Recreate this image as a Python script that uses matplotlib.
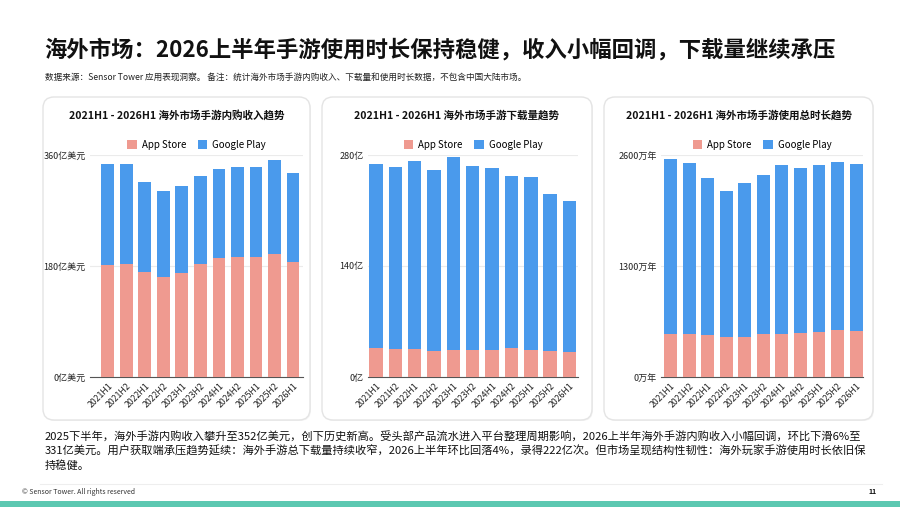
import matplotlib
matplotlib.use("Agg")
import matplotlib.pyplot as plt
from matplotlib.patches import FancyBboxPatch, Rectangle
import numpy as np

plt.rcParams['font.family'] = ['Noto Sans CJK SC', 'DejaVu Sans']

# ---- data ----
periods = ["2021H1", "2021H2", "2022H1", "2022H2", "2023H1", "2023H2",
           "2024H1", "2024H2", "2025H1", "2025H2", "2026H1"]

# in-app revenue, 亿美元
rev_total = [345, 345, 316, 301, 309, 326, 338, 341, 340, 352, 331]
rev_appstore = [181, 183, 170, 162, 169, 183, 193, 195, 194, 199, 186]

# downloads, 亿次
dl_total = [269, 265, 272, 261, 278, 266, 264, 254, 252, 231, 222]
dl_appstore = [36, 35, 35.5, 33, 33.5, 33.5, 33.5, 36, 34, 33, 32]

# total time spent, 万年
time_total = [2553, 2510, 2333, 2180, 2270, 2365, 2486, 2447, 2486, 2518, 2494]
time_appstore = [503, 507, 495, 471, 471, 499, 507, 511, 522, 546, 534]

C_AS = "#EF9A90"
C_GP = "#4A9AEC"

W, H = 900, 507
fig = plt.figure(figsize=(9, 5.07), dpi=100)

# background canvas in pixel coordinates
bg = fig.add_axes([0, 0, 1, 1], zorder=0)
bg.set_xlim(0, W)
bg.set_ylim(H, 0)
bg.axis("off")

cards = [(43, 310), (322, 592), (604, 873)]
for l, r in cards:
    # faint shadow then the card
    bg.add_patch(FancyBboxPatch((l + 1, 98), r - l, 323, boxstyle="round,pad=0,rounding_size=11",
                                fc="#f3f3f3", ec="none"))
    bg.add_patch(FancyBboxPatch((l, 97), r - l, 323, boxstyle="round,pad=0,rounding_size=11",
                                fc="white", ec="#e4e4e4", lw=1.0))

bg.text(44, 50, "海外市场：2026上半年手游使用时长保持稳健，收入小幅回调，下载量继续承压",
        fontsize=16.1, fontweight="bold", va="center", ha="left", color="#111111")
bg.text(45, 78, "数据来源：Sensor Tower 应用表现洞察。 备注：统计海外市场手游内购收入、下载量和使用时长数据，不包含中国大陆市场。",
        fontsize=6.2, va="center", ha="left", color="#222222")

body = ["2025下半年，海外手游内购收入攀升至352亿美元，创下历史新高。受头部产品流水进入平台整理周期影响，2026上半年海外手游内购收入小幅回调，环比下滑6%至",
        "331亿美元。用户获取端承压趋势延续：海外手游总下载量持续收窄，2026上半年环比回落4%，录得222亿次。但市场呈现结构性韧性：海外玩家手游使用时长依旧保",
        "持稳健。"]
for i, line in enumerate(body):
    bg.text(45, 437 + i * 14.5, line, fontsize=8.1, va="center", ha="left", color="#111111")

bg.plot([40, 882], [484, 484], color="#eeeeee", lw=0.8)
bg.text(22, 492, "© Sensor Tower. All rights reserved", fontsize=5, va="center", ha="left", color="#333333")
bg.text(877, 491, "11", fontsize=5, fontweight="bold", va="center", ha="right", color="#111111")
bg.add_patch(Rectangle((0, 501), W, 6, fc="#5CC8B1", ec="none"))


def panel(l, r, xlim, top, total, appstore, ticks, ticklabels, title, card):
    t, b = 155, 377
    ax = fig.add_axes([l / W, 1 - b / H, (r - l) / W, (b - t) / H], zorder=2)
    x = np.arange(len(periods))
    gp = np.array(total) - np.array(appstore)
    ax.bar(x, appstore, width=0.7, color=C_AS, label="App Store", zorder=3)
    ax.bar(x, gp, bottom=appstore, width=0.7, color=C_GP, label="Google Play", zorder=3)
    ax.set_xlim(*xlim)
    ax.set_ylim(0, top)
    ax.set_yticks(ticks)
    ax.set_yticklabels(ticklabels, fontsize=6.5, color="#222222")
    ax.set_xticks(x)
    ax.set_xticklabels(periods, rotation=45, ha="right", rotation_mode="anchor",
                       fontsize=6.3, color="#222222")
    ax.tick_params(length=0, pad=3)
    ax.grid(axis="y", color="#ebebeb", lw=0.8, zorder=0)
    for s in ["top", "right", "left"]:
        ax.spines[s].set_visible(False)
    ax.spines["bottom"].set_color("#555555")
    ax.spines["bottom"].set_linewidth(0.8)
    ax.set_facecolor("none")
    ax.legend(loc="center", bbox_to_anchor=(0.5, 1 + 10 / (b - t)), ncol=2, frameon=False,
              fontsize=7, handlelength=1.0, handleheight=1.0, handletextpad=0.5,
              columnspacing=1.2, borderaxespad=0)
    cl, cr = card
    bg.text((cl + cr) / 2, 115, title, fontsize=7.6, fontweight="bold",
            ha="center", va="center", color="#111111")
    return ax


panel(90, 303, (-0.97, 10.54), 360, rev_total, rev_appstore,
      [0, 180, 360], ["0亿美元", "180亿美元", "360亿美元"],
      "2021H1 - 2026H1 海外市场手游内购收入趋势", cards[0])
panel(368, 578, (-0.41, 10.44), 280, dl_total, dl_appstore,
      [0, 140, 280], ["0亿", "140亿", "280亿"],
      "2021H1 - 2026H1 海外市场手游下载量趋势", cards[1])
panel(661, 863, (-0.51, 10.37), 2600, time_total, time_appstore,
      [0, 1300, 2600], ["0万年", "1300万年", "2600万年"],
      "2021H1 - 2026H1 海外市场手游使用总时长趋势", cards[2])

fig.savefig("out.png", dpi=100)
